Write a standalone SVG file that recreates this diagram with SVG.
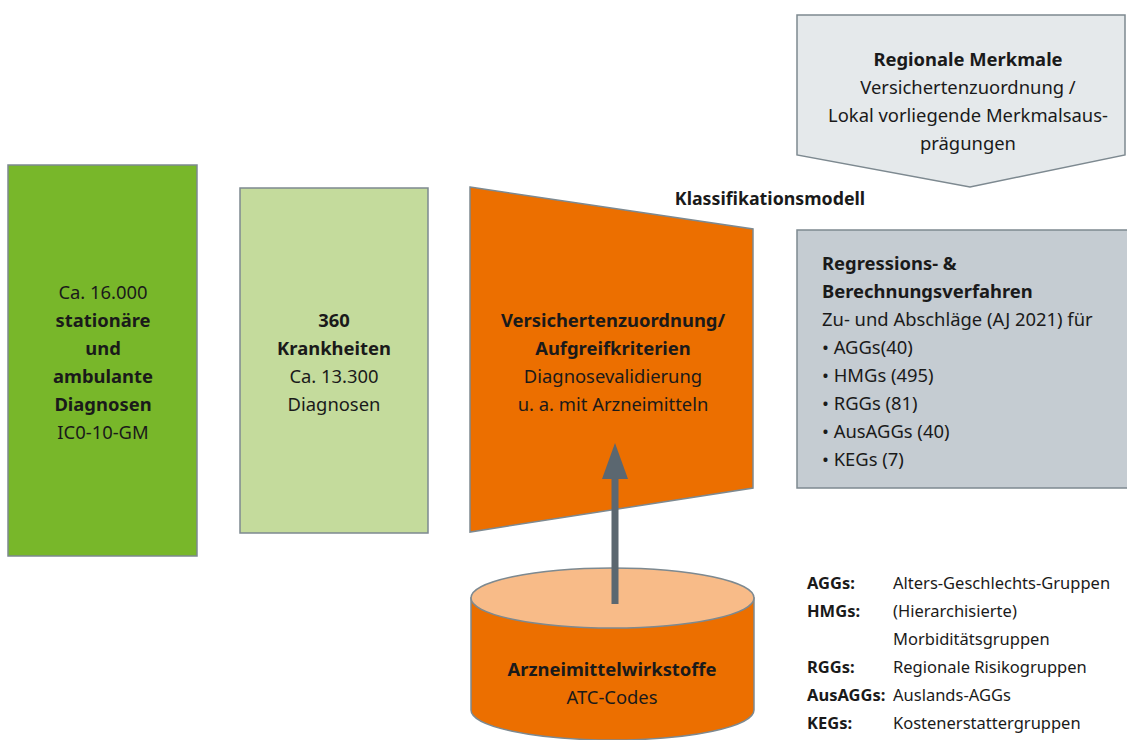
<svg xmlns="http://www.w3.org/2000/svg" width="1127" height="740" viewBox="0 0 1127 740">
<style>
text{font-family:"Noto Sans","Liberation Sans",sans-serif;fill:#1a1a1a;font-size:18.4px}
.c{text-anchor:middle}
.b{font-weight:bold}
.lg{font-size:16.5px}
.shape{stroke:#7d8990;stroke-width:1.5}
</style>
<rect width="1127" height="740" fill="#ffffff"/>
<g id="regionale">
<path class="shape" d="M797,15 L1125,15 L1125,155 L970,187 L797,155 Z" fill="#e5e9eb"/>
<text class="c b" x="968" y="66">Regionale Merkmale</text>
<text class="c" x="968" y="94">Versichertenzuordnung /</text>
<text class="c" x="968" y="122">Lokal vorliegende Merkmalsaus-</text>
<text class="c" x="968" y="150">prägungen</text>
</g>
<g id="diagnosen">
<rect class="shape" x="8" y="165" width="189" height="391" fill="#78b72a"/>
<text class="c" x="103" y="299">Ca. 16.000</text>
<text class="c b" x="103" y="327">stationäre</text>
<text class="c b" x="103" y="355">und</text>
<text class="c b" x="103" y="383">ambulante</text>
<text class="c b" x="103" y="411">Diagnosen</text>
<text class="c" x="103" y="439">IC0-10-GM</text>
</g>
<g id="krankheiten">
<rect class="shape" x="240" y="188" width="188" height="345" fill="#c4db9c"/>
<text class="c b" x="334" y="327">360</text>
<text class="c b" x="334" y="355">Krankheiten</text>
<text class="c" x="334" y="383">Ca. 13.300</text>
<text class="c" x="334" y="411">Diagnosen</text>
</g>
<g id="versichertenzuordnung">
<path class="shape" d="M470,187 L753,229 L753,488 L470,532 Z" fill="#ec6f00"/>
<text class="c b" x="613" y="327">Versichertenzuordnung/</text>
<text class="c b" x="613" y="355">Aufgreifkriterien</text>
<text class="c" x="613" y="383">Diagnosevalidierung</text>
<text class="c" x="613" y="411">u. a. mit Arzneimitteln</text>
</g>
<g id="klassifikationsmodell">
<text class="c b" x="770" y="205" style="font-size:17.8px">Klassifikationsmodell</text>
</g>
<g id="regression">
<rect class="shape" x="797" y="230" width="340" height="258" fill="#c5ccd2"/>
<text class="b" x="822" y="270">Regressions- &amp;</text>
<text class="b" x="822" y="298">Berechnungsverfahren</text>
<text x="822" y="326">Zu- und Abschläge (AJ 2021) für</text>
<text x="822" y="354">• AGGs(40)</text>
<text x="822" y="382">• HMGs (495)</text>
<text x="822" y="410">• RGGs (81)</text>
<text x="822" y="438">• AusAGGs (40)</text>
<text x="822" y="466">• KEGs (7)</text>
</g>
<g id="arzneimittel">
<path class="shape" d="M471,598 L471,710 A141.5,30 0 0 0 754,710 L754,598 Z" fill="#ec6f00"/>
<ellipse class="shape" cx="612.5" cy="598" rx="141.5" ry="30" fill="#f8bb88"/>
<text class="c b" x="612" y="676">Arzneimittelwirkstoffe</text>
<text class="c" x="612" y="704">ATC-Codes</text>
</g>
<g id="connectors">
<rect x="611.5" y="476" width="7" height="128" fill="#5b6770"/>
<path d="M602,479 L615,443 L628,479 Z" fill="#5b6770"/>
</g>
<g id="legende">
<text class="lg b" x="807" y="589">AGGs:</text>
<text class="lg" x="893" y="589">Alters-Geschlechts-Gruppen</text>
<text class="lg b" x="807" y="617">HMGs:</text>
<text class="lg" x="893" y="617">(Hierarchisierte)</text>
<text class="lg" x="893" y="645">Morbiditätsgruppen</text>
<text class="lg b" x="807" y="673">RGGs:</text>
<text class="lg" x="893" y="673">Regionale Risikogruppen</text>
<text class="lg b" x="807" y="701">AusAGGs:</text>
<text class="lg" x="893" y="701">Auslands-AGGs</text>
<text class="lg b" x="807" y="729">KEGs:</text>
<text class="lg" x="893" y="729">Kostenerstattergruppen</text>
</g>
</svg>
